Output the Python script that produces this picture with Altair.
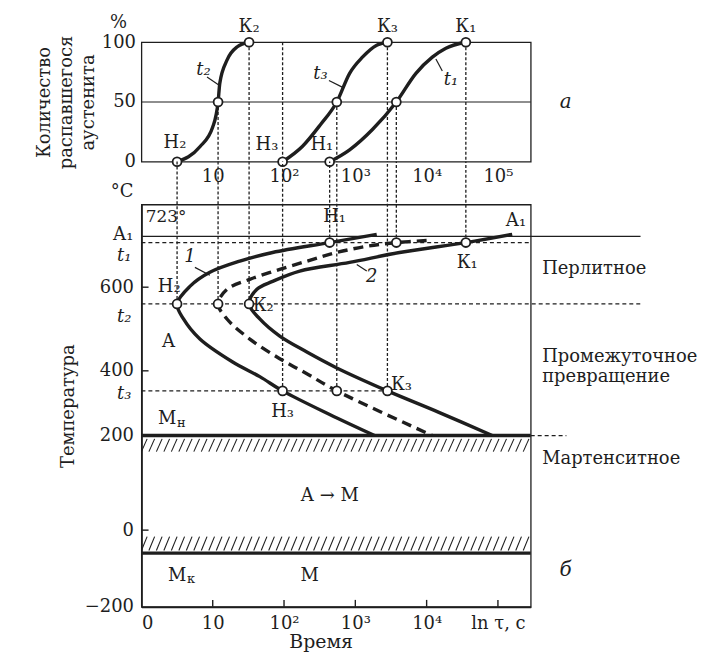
import altair as alt
import pandas as pd

FONT = "DejaVu Serif"
INK = "#1e1e1e"
XMAX = 5.46  # right edge of both panels (lg tau units)

# ---------- panel a: kinetic curves (x = lg tau position, y = % decomposed) ----------
t2_x = [0.50, 0.82, 1.00, 1.075, 1.10, 1.20, 1.34, 1.51]
t2_y = [0, 12.5, 29, 50, 66, 85, 96, 100]
t3_x = [1.98, 2.26, 2.51, 2.74, 2.92, 3.10, 3.30, 3.45]
t3_y = [0, 13, 31, 50, 74, 87.5, 97.5, 100]
t1_x = [2.64, 2.92, 3.24, 3.575, 3.85, 4.08, 4.27, 4.55]
t1_y = [0, 10, 27, 50, 74, 87.5, 95, 100]

key_x_top = [0.50, 1.075, 1.51, 1.98, 2.74, 3.45, 2.64, 3.575, 4.55]
key_y_top = [0, 50, 100, 0, 50, 100, 0, 50, 100]

top_x_ticks = [1, 2, 3, 4, 5]
top_x_labels = ["10", "10²", "10³", "10⁴", "10⁵"]

# ---------- panel б: isothermal decomposition diagram ----------
start_x = [3.30, 2.64, 1.84, 1.38, 0.96, 0.68, 0.50, 0.59, 0.82, 1.28, 1.66, 1.98, 2.64, 3.27]
start_T = [728, 708, 684, 663, 636, 602, 560, 524, 476, 421, 382, 338, 265, 200]
half_x = [4.00, 3.575, 3.16, 2.74, 2.36, 1.94, 1.52, 1.20, 1.075, 1.20, 1.52, 1.94, 2.32, 2.74, 4.08]
half_T = [713, 708, 699, 684, 665, 643, 619, 595, 560, 524, 476, 429, 391, 338, 200]
end_x = [5.20, 4.55, 3.62, 2.92, 2.22, 1.84, 1.62, 1.51, 1.66, 1.94, 2.32, 2.74, 3.45, 4.18, 4.92]
end_T = [728, 708, 684, 660, 639, 614, 595, 560, 524, 483, 445, 407, 338, 271, 200]

A1 = 723
t1, t2, t3 = 708, 560, 338
Ms, Mf = 200, -60
key_x_bot = [0.50, 1.075, 1.51, 2.64, 3.575, 4.55, 1.98, 2.74, 3.45]
key_T_bot = [t2, t2, t2, t1, t1, t1, t3, t3, t3]

bot_x_ticks = [0, 1, 2, 3, 4, 5]
bot_x_labels = ["0", "10", "10²", "10³", "10⁴", "ln τ, c"]
bot_y_ticks = [600, 400, 200, 0, -200]
bot_y_labels = ["600", "400", "200", "0", "−200"]

# ---------- scales ----------
xs = alt.Scale(domain=[0, XMAX], nice=False, zero=False)
ys_top = alt.Scale(domain=[0, 100], nice=False, zero=False)
# the printed temperature axis is not uniform: piecewise-linear scale
ys_bot = alt.Scale(domain=[-200, 0, 200, 400, 600, 800],
                   range=[404, 327, 232, 167, 83, 0], nice=False, zero=False)
W, H_TOP, H_BOT = 391, 120, 404
FS = 18


def lbl_expr(vals, labels):
    parts = " : ".join(f"datum.value == {v} ? '{l}'" for v, l in zip(vals, labels))
    return parts + " : ''"


def X(field="x"):
    return alt.X(f"{field}:Q", scale=xs)


def Y(field, ys):
    return alt.Y(f"{field}:Q", scale=ys)


def text_layer(rows, ys, size=FS, italic=False, align="center", dx=0, dy=0, baseline="middle"):
    df = pd.DataFrame(rows, columns=["t", "x", "y"])
    return alt.Chart(df).mark_text(font=FONT, fontSize=size, color=INK,
                                   fontStyle="italic" if italic else "normal",
                                   align=align, baseline=baseline, dx=dx, dy=dy).encode(
        x=X(), y=Y("y", ys), text="t:N")


def rule_layer(df, ys, width=1.2, dash=None, color=INK):
    kw = dict(color=color, strokeWidth=width)
    if dash:
        kw["strokeDash"] = dash
    return alt.Chart(df).mark_rule(**kw).encode(
        x=X("x"), x2="x2:Q", y=Y("y", ys), y2="y2:Q")


# ================= TOP PANEL =================
top_curves = pd.DataFrame(
    [("t2", x, y, i) for i, (x, y) in enumerate(zip(t2_x, t2_y))] +
    [("t3", x, y, i) for i, (x, y) in enumerate(zip(t3_x, t3_y))] +
    [("t1", x, y, i) for i, (x, y) in enumerate(zip(t1_x, t1_y))],
    columns=["s", "x", "y", "o"])

top_base = alt.Chart(top_curves).mark_line(
    interpolate="monotone", color=INK, strokeWidth=3.4).encode(
    x=alt.X("x:Q", scale=xs, axis=alt.Axis(
        values=top_x_ticks, labelExpr=lbl_expr(top_x_ticks, top_x_labels),
        ticks=False, domain=False, grid=False, title=None, labelPadding=6)),
    y=alt.Y("y:Q", scale=ys_top, axis=alt.Axis(
        values=[0, 50, 100], ticks=False, domain=False, grid=False,
        title=["Количество", "распавшегося", "аустенита"], titlePadding=4,
        titleFontSize=18, titleLineHeight=22, labelPadding=6)),
    detail="s:N", order="o:Q")

mid50 = alt.Chart(pd.DataFrame({"y": [50]})).mark_rule(color=INK, strokeWidth=1.2).encode(
    y=Y("y", ys_top))

top_vert = pd.DataFrame({
    "x": [1.075, 1.51, 1.98, 2.74, 3.45, 3.575, 4.55],
    "y": [50, 100, 100, 50, 100, 50, 100],
    "y2": [0, 0, 0, 0, 0, 0, 0]})
top_vert["x2"] = top_vert["x"]

top_pts = alt.Chart(pd.DataFrame({"x": key_x_top, "y": key_y_top})).mark_point(
    filled=True, fill="white", stroke=INK, strokeWidth=1.8, size=80, opacity=1).encode(
    x=X(), y=Y("y", ys_top))

top_leaders = pd.DataFrame({
    "x": [0.92, 2.63, 4.13], "y": [71, 68, 86],
    "x2": [1.09, 2.83, 4.22], "y2": [64, 62, 76]})

top_labels = text_layer([
    ("Н₂", 0.47, 16), ("Н₃", 1.76, 14), ("Н₁", 2.53, 14),
    ("К₂", 1.51, 112.5), ("К₃", 3.45, 113), ("К₁", 4.55, 113)], ys_top)
top_t_labels = text_layer([("t₂", 0.87, 77), ("t₃", 2.51, 73), ("t₁", 4.34, 68)], ys_top, italic=True)
pct_label = text_layer([("%", 0, 116)], ys_top, dx=-23)
a_label = text_layer([("а", 5.95, 50)], ys_top, size=20, italic=True)

top = alt.layer(
    top_base,
    mid50,
    rule_layer(top_vert, ys_top, width=1.3, dash=[3, 2]),
    rule_layer(top_leaders, ys_top, width=1.2),
    top_pts, top_labels, top_t_labels, pct_label, a_label,
).properties(width=W, height=H_TOP)

# ================= BOTTOM PANEL =================
curves_bot = pd.DataFrame(
    [("start", x, T, i) for i, (x, T) in enumerate(zip(start_x, start_T))] +
    [("end", x, T, i) for i, (x, T) in enumerate(zip(end_x, end_T))],
    columns=["s", "x", "y", "o"])
half_bot = pd.DataFrame({"x": half_x, "y": half_T, "o": range(len(half_x))})

bot_base = alt.Chart(curves_bot).mark_line(
    interpolate="catmull-rom", color=INK, strokeWidth=3.4).encode(
    x=alt.X("x:Q", scale=xs, axis=alt.Axis(
        values=bot_x_ticks, labelExpr=lbl_expr(bot_x_ticks, bot_x_labels),
        ticks=False, domain=True, grid=False, title="Время", titleX=180,
        titlePadding=0, titleFontSize=19, labelPadding=8)),
    y=alt.Y("y:Q", scale=ys_bot, axis=alt.Axis(
        values=bot_y_ticks, labelExpr=lbl_expr(bot_y_ticks, bot_y_labels),
        ticks=False, domain=True, grid=False, title="Температура",
        titlePadding=7, labelPadding=8)),
    detail="s:N", order="o:Q")

half_line = alt.Chart(half_bot).mark_line(
    interpolate="catmull-rom", color=INK, strokeWidth=3.4, strokeDash=[10, 6]).encode(
    x=X(), y=Y("y", ys_bot), order="o:Q")

hdash = pd.DataFrame({
    "y": [t1, t2, t3, Ms], "x": [0, 0, 0, XMAX], "x2": [XMAX, 7.0, 3.45, 5.96]})
hdash["y2"] = hdash["y"]
a1_line = pd.DataFrame({"y": [A1], "y2": [A1], "x": [0], "x2": [7.0]})

bot_vert = pd.DataFrame({"x": key_x_bot, "y": key_T_bot})
bot_vert["x2"] = bot_vert["x"]
bot_vert["y2"] = 904  # continues up across the gap to panel a

thick = pd.DataFrame({"y": [Ms, Mf], "y2": [Ms, Mf], "x": [0, 0], "x2": [XMAX, XMAX]})

# hatching (decoration): short slanted strokes under Ms and above Mf
hx = [i * 0.105 for i in range(53)]
hatch = pd.DataFrame(
    [{"x": x, "x2": min(x + 0.08, XMAX), "y": 166, "y2": 193} for x in hx if x + 0.02 < XMAX] +
    [{"x": x, "x2": min(x + 0.08, XMAX), "y": -53, "y2": -17} for x in hx if x + 0.02 < XMAX])

# inward ticks
yticks_in = pd.DataFrame({"y": [600, 400, 0], "y2": [600, 400, 0], "x": [0, 0, 0], "x2": [0.1, 0.1, 0.1]})
xticks_in = pd.DataFrame({"x": [1, 2, 3, 4, 5], "x2": [1, 2, 3, 4, 5],
                          "y": [-200] * 5, "y2": [-182] * 5})

bot_leaders = pd.DataFrame({"x": [0.75, 3.02], "y": [648, 655], "x2": [0.96, 3.16], "y2": [629, 639]})

bot_pts = alt.Chart(pd.DataFrame({"x": key_x_bot, "y": key_T_bot})).mark_point(
    filled=True, fill="white", stroke=INK, strokeWidth=1.8, size=80, opacity=1).encode(
    x=X(), y=Y("y", ys_bot))

bot_labels = text_layer([
    ("Н₁", 2.71, 769), ("Н₂", 0.39, 600),
    ("А", 0.38, 469), ("Н₃", 1.98, 274), ("К₁", 4.57, 658), ("А₁", 5.25, 759),
    ("М", 0.36, 252), ("А → М", 2.64, 72), ("М", 0.50, -119), ("М", 2.36, -119)], ys_bot)
bot_k = text_layer([("К₃", 3.50, 357), ("К₂", 1.56, 555)], ys_bot, align="left")
sub_labels = text_layer([("н", 0.50, 240), ("к", 0.64, -128)], ys_bot, size=13, align="left")
deg_label = text_layer([("723°", 0.06, 769)], ys_bot, size=17, align="left")
num_labels = text_layer([("1", 0.68, 672), ("2", 3.23, 624)], ys_bot, italic=True)
left_labels = text_layer([("А₁", 0, 727), ("°C", 0, 831)], ys_bot, align="right", dx=-8)
left_t = text_layer([("t₁", 0, 675), ("t₂", 0, 529), ("t₃", 0, 329)], ys_bot, align="right", dx=-10, italic=True)
right_labels = text_layer([
    ("Перлитное", 5.62, 643), ("Промежуточное", 5.62, 433),
    ("превращение", 5.62, 382), ("Мартенситное", 5.62, 150)], ys_bot, size=18, align="left")
b_label = text_layer([("б", 5.95, -104)], ys_bot, size=20, italic=True)

bottom = alt.layer(
    bot_base,
    rule_layer(hdash, ys_bot, width=1.3, dash=[4, 3]),
    rule_layer(a1_line, ys_bot, width=1.4),
    rule_layer(bot_vert, ys_bot, width=1.3, dash=[3, 2]),
    rule_layer(hatch, ys_bot, width=1.1),
    rule_layer(thick, ys_bot, width=3.4),
    rule_layer(yticks_in, ys_bot, width=1.4),
    rule_layer(xticks_in, ys_bot, width=1.4),
    half_line,
    rule_layer(bot_leaders, ys_bot, width=1.2),
    bot_pts,
    bot_labels, bot_k, sub_labels, deg_label, num_labels, left_labels, left_t, right_labels, b_label,
).properties(width=W, height=H_BOT)

chart = alt.vconcat(top, bottom, spacing=43, bounds="flush").properties(
    padding={"left": 26, "top": 4, "right": 0, "bottom": 0},
    background="white",
).configure_view(stroke=INK, strokeWidth=1.3).configure_axis(
    labelFont=FONT, labelFontSize=FS, labelColor=INK,
    titleFont=FONT, titleFontSize=FS, titleFontWeight="normal", titleColor=INK,
    domainColor=INK, domainWidth=1.8,
)

chart.save("out.html", embed_options={"renderer": "svg", "actions": False})
